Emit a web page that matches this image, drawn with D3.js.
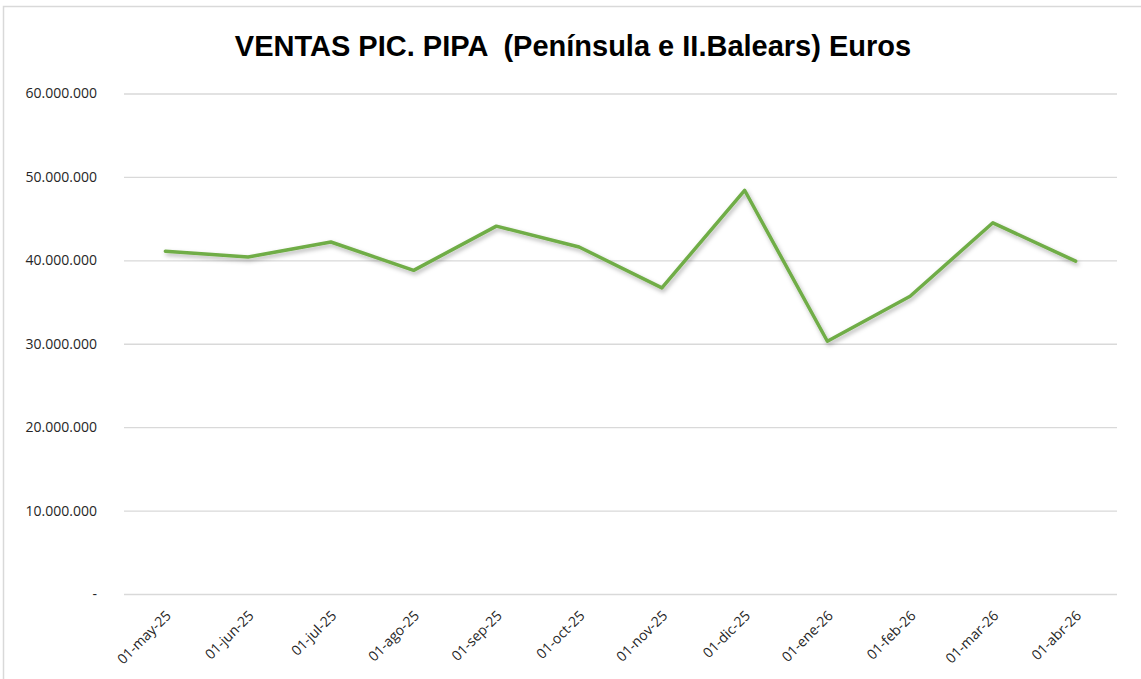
<!DOCTYPE html>
<html>
<head>
<meta charset="utf-8">
<script src="https://cdn.jsdelivr.net/npm/d3@7"></script>
<style>
  body { margin: 0; background: #fff; }
  svg { display: block; }
</style>
</head>
<body>
<svg id="chart" width="1141" height="679"></svg>
<script>
const months = ["01-may-25", "01-jun-25", "01-jul-25", "01-ago-25", "01-sep-25", "01-oct-25",
  "01-nov-25", "01-dic-25", "01-ene-26", "01-feb-26", "01-mar-26", "01-abr-26"];
const ventas = [41100000, 40400000, 42200000, 38800000, 44100000, 41600000,
  36700000, 48400000, 30300000, 35700000, 44500000, 39900000];
const yTicks = [0, 10000000, 20000000, 30000000, 40000000, 50000000, 60000000];
const title = "VENTAS PIC. PIPA  (Península e II.Balears) Euros";

const svg = d3.select("#chart");
const width = +svg.attr("width");

const x = d3.scaleBand().domain(months).range([124, 1117]);
const y = d3.scaleLinear().domain([0, 60000000]).range([594, 93.5]);

const fmt = (v) => v === 0 ? "-" : d3.format(",")(v).replace(/,/g, ".");

// chart frame
svg.append("rect")
  .attr("x", 3.5).attr("y", 6.5)
  .attr("width", width + 10).attr("height", 700)
  .attr("fill", "#fff")
  .attr("stroke", "#d9d9d9")
  .attr("stroke-width", 1.5);

const defs = svg.append("defs");
const shadow = defs.append("filter").attr("id", "shadow")
  .attr("x", "-5%").attr("y", "-20%").attr("width", "110%").attr("height", "140%");
shadow.append("feDropShadow")
  .attr("dx", 1.5).attr("dy", 2.5).attr("stdDeviation", 2)
  .attr("flood-color", "#000").attr("flood-opacity", 0.3);

svg.append("text")
  .attr("x", 573).attr("y", 56)
  .attr("text-anchor", "middle")
  .attr("font-family", "Liberation Sans, Arial, sans-serif")
  .attr("font-weight", "bold")
  .attr("font-size", 29)
  .attr("fill", "#000")
  .style("white-space", "pre")
  .text(title);

// gridlines + y labels
const yAxis = d3.axisLeft(y).tickValues(yTicks).tickSize(-(1117 - 124)).tickFormat(fmt).tickPadding(27);
const gy = svg.append("g").attr("transform", "translate(124,0)").call(yAxis);
gy.select(".domain").remove();
gy.selectAll(".tick line").attr("stroke", "#d9d9d9").attr("stroke-width", 1.3);
gy.selectAll(".tick text")
  .attr("font-family", "Open Sans, sans-serif")
  .attr("font-size", 14)
  .attr("fill", "#262626");

// x labels
const xAxis = d3.axisBottom(x).tickSize(0).tickPadding(0);
const gx = svg.append("g").attr("transform", "translate(0,594)").call(xAxis);
gx.select(".domain").remove();
gx.selectAll(".tick text")
  .attr("font-family", "Open Sans, sans-serif")
  .attr("font-size", 14)
  .attr("fill", "#262626")
  .attr("text-anchor", "end")
  .attr("dy", "0.35em")
  .attr("transform", "translate(3,19) rotate(-45)");

const line = d3.line()
  .x((d, i) => x(months[i]) + x.bandwidth() / 2)
  .y((d) => y(d));

svg.append("path")
  .datum(ventas)
  .attr("d", line)
  .attr("fill", "none")
  .attr("stroke", "#70ad47")
  .attr("stroke-width", 3.5)
  .attr("stroke-linejoin", "round")
  .attr("stroke-linecap", "round")
  .attr("filter", "url(#shadow)");
</script>
</body>
</html>
